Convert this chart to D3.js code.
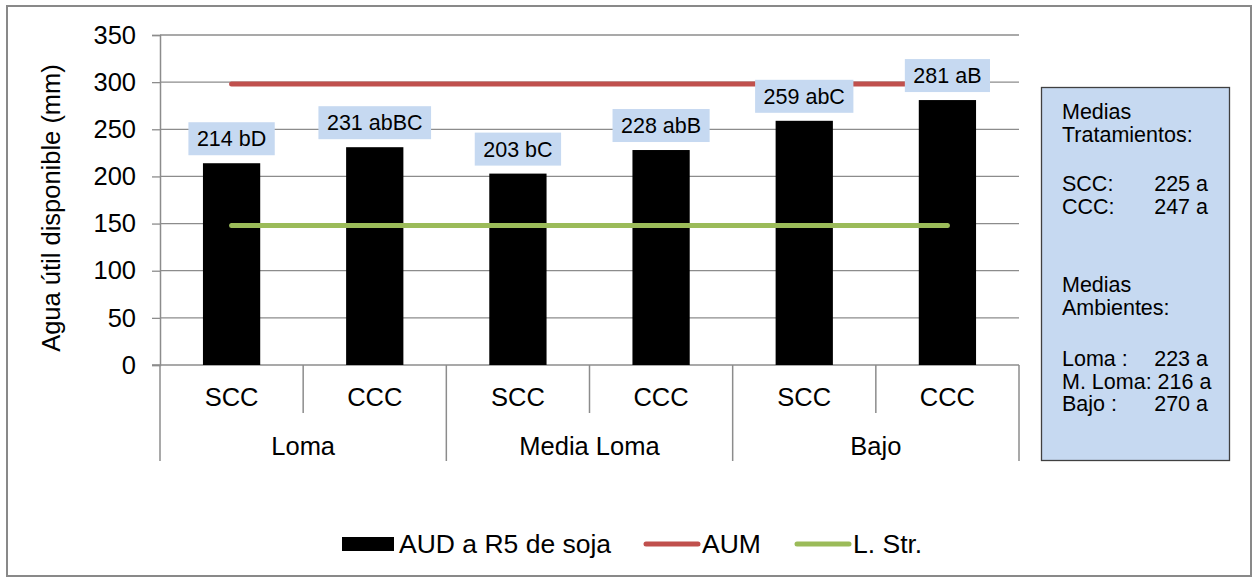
<!DOCTYPE html>
<html>
<head>
<meta charset="utf-8">
<script src="https://cdn.jsdelivr.net/npm/d3@7"></script>
<style>
  html, body { margin: 0; padding: 0; background: #fff; }
  svg { display: block; font-family: "Liberation Sans", Arial, sans-serif; }
</style>
</head>
<body>
<svg id="chart" width="1258" height="579"></svg>
<script>
// ---- data ----
const groups = ["Loma", "Media Loma", "Bajo"];
const treatments = ["SCC", "CCC"];
const categories = ["Loma|SCC", "Loma|CCC", "Media Loma|SCC", "Media Loma|CCC", "Bajo|SCC", "Bajo|CCC"];
const audValues = [214, 231, 203, 228, 259, 281];
const barLabels = ["214 bD", "231 abBC", "203 bC", "228 abB", "259 abC", "281 aB"];
const aumValues = [298, 298, 298, 298, 298, 298];
const lstrValues = [148, 148, 148, 148, 148, 148];
const yTicks = [0, 50, 100, 150, 200, 250, 300, 350];
const seriesNames = ["AUD a R5 de soja", "AUM", "L. Str."];
const seriesColors = ["#000000", "#c0504d", "#9bbb59"];
const yTitle = "Agua útil disponible (mm)";
const boxLabels = [
  {label: "Medias", value: ""},
  {label: "Tratamientos:", value: ""},
  {label: "SCC:", value: "225 a"},
  {label: "CCC:", value: "247 a"},
  {label: "Medias", value: ""},
  {label: "Ambientes:", value: ""},
  {label: "Loma :", value: "223 a"},
  {label: "M. Loma: 216 a", value: ""},
  {label: "Bajo :", value: "270 a"}
];
const boxLineY = [111, 134, 183, 206, 284, 307, 358, 381, 403];

// ---- layout ----
const svg = d3.select("#chart");
const plot = {left: 160, right: 1019, top: 35, bottom: 365};
const gridColor = "#8c8c8c";

svg.append("rect").attr("x", 7).attr("y", 6).attr("width", 1244).attr("height", 570)
  .attr("fill", "#fff").attr("stroke", "#898989").attr("stroke-width", 2);

const y = d3.scaleLinear().domain([0, 350]).range([plot.bottom, plot.top]);
const xCat = d3.scaleBand().domain(categories).range([plot.left, plot.right]).paddingInner(0);
const xBar = d3.scaleBand().domain(categories).range([plot.left, plot.right]).paddingInner(0.6).paddingOuter(0.3);
const center = c => xCat(c) + xCat.bandwidth() / 2;

// gridlines
svg.append("g").selectAll("line").data(yTicks.filter(t => t > 0)).join("line")
  .attr("x1", plot.left).attr("x2", plot.right)
  .attr("y1", d => y(d)).attr("y2", d => y(d))
  .attr("stroke", gridColor).attr("stroke-width", 1.3);

// y axis
const yAxis = svg.append("g").attr("transform", `translate(${plot.left},0)`)
  .call(d3.axisLeft(y).tickValues(yTicks).tickSize(8).tickPadding(16));
yAxis.select(".domain").attr("stroke", gridColor).attr("stroke-width", 1.5);
yAxis.selectAll(".tick line").attr("stroke", gridColor).attr("stroke-width", 1.3);
yAxis.selectAll(".tick text").attr("font-size", "25.5px").attr("fill", "#000")
  .attr("font-family", "Liberation Sans, Arial, sans-serif");

// y title
svg.append("text").attr("transform", `translate(60,208) rotate(-90)`)
  .attr("text-anchor", "middle").attr("font-size", "25.5px").attr("fill", "#000")
  .text(yTitle);

// x axis baseline
svg.append("line").attr("x1", plot.left - 8).attr("x2", plot.right)
  .attr("y1", plot.bottom).attr("y2", plot.bottom)
  .attr("stroke", gridColor).attr("stroke-width", 1.5);

// category separators
const sepX = categories.map(c => xCat(c)).concat([plot.right]);
svg.append("g").selectAll("line").data(sepX).join("line")
  .attr("x1", d => d).attr("x2", d => d)
  .attr("y1", plot.bottom)
  .attr("y2", (d, i) => (i % treatments.length === 0) ? 461 : 413)
  .attr("stroke", gridColor).attr("stroke-width", 1.5);

// category labels
svg.append("g").selectAll("text").data(categories).join("text")
  .attr("x", d => center(d)).attr("y", 397).attr("dy", "0.35em")
  .attr("text-anchor", "middle").attr("font-size", "25.5px")
  .text(d => d.split("|")[1]);

// group labels
svg.append("g").selectAll("text").data(groups).join("text")
  .attr("x", (g, i) => (xCat(categories[i * 2]) + xCat(categories[i * 2 + 1]) + xCat.bandwidth()) / 2)
  .attr("y", 446).attr("dy", "0.35em")
  .attr("text-anchor", "middle").attr("font-size", "25.5px")
  .text(d => d);

// bars
svg.append("g").selectAll("rect").data(audValues).join("rect")
  .attr("x", (d, i) => xBar(categories[i])).attr("width", xBar.bandwidth())
  .attr("y", d => y(d)).attr("height", d => y(0) - y(d))
  .attr("fill", seriesColors[0]);

// lines
const line = d3.line().x((d, i) => center(categories[i])).y(d => y(d));
svg.append("path").datum(lstrValues).attr("d", line)
  .attr("fill", "none").attr("stroke", seriesColors[2]).attr("stroke-width", 5).attr("stroke-linecap", "round");
svg.append("path").datum(aumValues).attr("d", line)
  .attr("fill", "none").attr("stroke", seriesColors[1]).attr("stroke-width", 5).attr("stroke-linecap", "round");

// bar labels with boxes
const lblG = svg.append("g").selectAll("g").data(audValues).join("g");
lblG.each(function(d, i) {
  const g = d3.select(this);
  const cx = center(categories[i]);
  const bottom = y(d) - 8;
  const t = g.append("text").attr("x", cx).attr("y", bottom - 16.5).attr("dy", "0.35em")
    .attr("text-anchor", "middle").attr("font-size", "21.5px").text(barLabels[i]);
  const w = t.node().getComputedTextLength() + 17;
  g.insert("rect", "text").attr("x", cx - w / 2).attr("y", bottom - 33)
    .attr("width", w).attr("height", 33).attr("fill", "#c6d9f1");
});

// side box
svg.append("rect").attr("x", 1041.5).attr("y", 87.5).attr("width", 188).attr("height", 373)
  .attr("fill", "#c6d9f1").attr("stroke", "#404040").attr("stroke-width", 1.3);
const bx = svg.append("g").selectAll("g").data(boxLabels).join("g");
bx.append("text").attr("x", 1062).attr("y", (d, i) => boxLineY[i]).attr("dy", "0.35em")
  .attr("font-size", "21.5px").text(d => d.label);
bx.append("text").attr("x", 1208).attr("y", (d, i) => boxLineY[i]).attr("dy", "0.35em")
  .attr("text-anchor", "end").attr("font-size", "21.5px").text(d => d.value);

// legend
const lg = svg.append("g");
lg.append("rect").attr("x", 342).attr("y", 537).attr("width", 52).attr("height", 14).attr("fill", seriesColors[0]);
lg.append("text").attr("x", 399).attr("y", 544).attr("dy", "0.35em").attr("font-size", "26.5px").text(seriesNames[0]);
lg.append("line").attr("x1", 646).attr("x2", 698).attr("y1", 544).attr("y2", 544)
  .attr("stroke", seriesColors[1]).attr("stroke-width", 5).attr("stroke-linecap", "round");
lg.append("text").attr("x", 702).attr("y", 544).attr("dy", "0.35em").attr("font-size", "26.5px").text(seriesNames[1]);
lg.append("line").attr("x1", 797).attr("x2", 849).attr("y1", 544).attr("y2", 544)
  .attr("stroke", seriesColors[2]).attr("stroke-width", 5).attr("stroke-linecap", "round");
lg.append("text").attr("x", 853).attr("y", 544).attr("dy", "0.35em").attr("font-size", "26.5px").text(seriesNames[2]);
</script>
</body>
</html>
